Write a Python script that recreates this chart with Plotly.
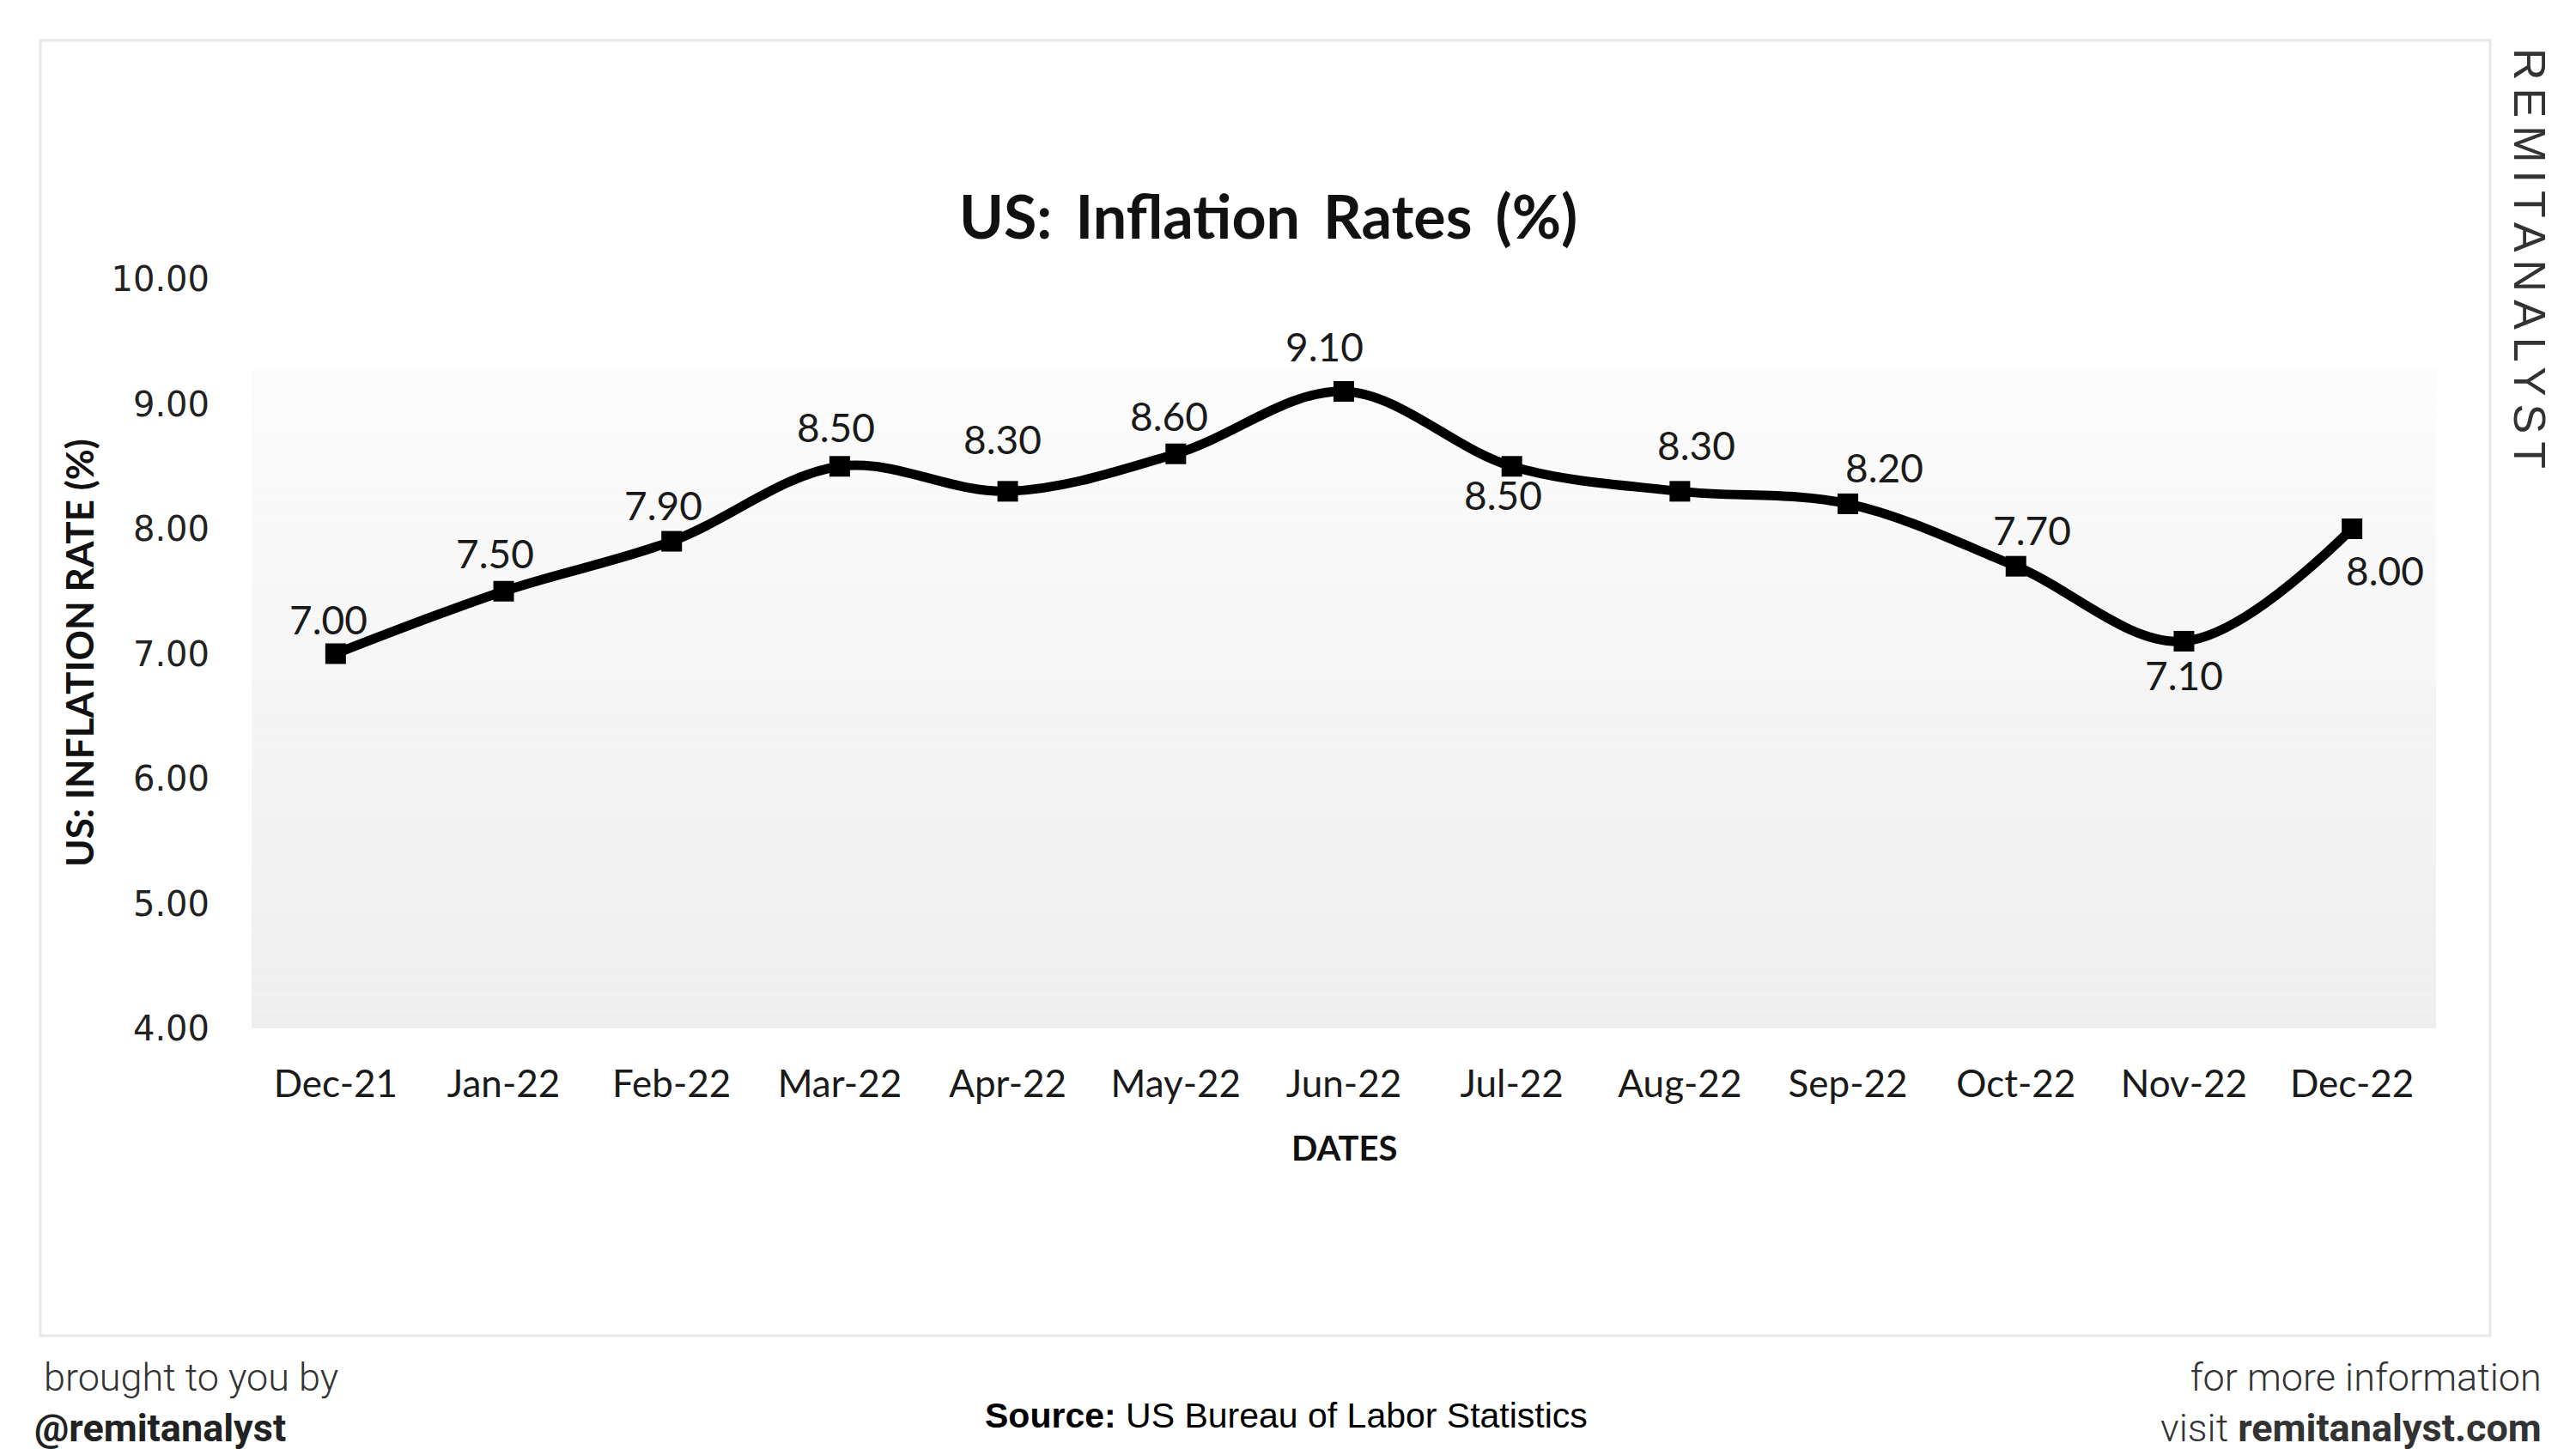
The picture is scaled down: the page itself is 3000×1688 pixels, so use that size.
import plotly.graph_objects as go

# ---------------- data ----------------
dates = ["Dec-21", "Jan-22", "Feb-22", "Mar-22", "Apr-22", "May-22", "Jun-22",
         "Jul-22", "Aug-22", "Sep-22", "Oct-22", "Nov-22", "Dec-22"]
rates = [7.00, 7.50, 7.90, 8.50, 8.30, 8.60, 9.10, 8.50, 8.30, 8.20, 7.70, 7.10, 8.00]
y_ticks = [4, 5, 6, 7, 8, 9, 10]

title_text = "US: Inflation Rates (%)"
y_title = "US: INFLATION RATE (%)"
x_title = "DATES"

# label offsets in pixels (style only)
label_dx = [-8, -10, -10, -4, -6, -8, -23, -10, 19, 42, 19, 0, 38]
label_dy = [40, 44, 42, 46, 61, 44, 52, -33, 54, 42, 42, -40, -48]

# ---------------- layout geometry ----------------
W, H = 3000, 1688
L, R, T, B = 293, 163, 325, 490
PW, PH = W - L - R, H - T - B


def px(x):
    return (x - L) / PW


def py(y):
    return (H - B - y) / PH


fig = go.Figure()

fig.add_trace(go.Scatter(
    x=dates, y=rates, mode="lines+markers",
    line=dict(color="black", width=11, shape="spline", smoothing=1.0),
    marker=dict(symbol="square", size=24, color="black"),
    hoverinfo="skip", showlegend=False,
))

shapes = []
# gradient background of plot area
top_val, bot_val = 9.28, 4.0
n = 40
c_top, c_bot = 252, 238
for i in range(n):
    y0 = bot_val + (top_val - bot_val) * i / n
    y1 = bot_val + (top_val - bot_val) * (i + 1) / n
    c = round(c_bot + (c_top - c_bot) * (i + 0.5) / n)
    shapes.append(dict(type="rect", xref="paper", yref="y", x0=0, x1=1, y0=y0, y1=y1,
                       fillcolor=f"rgb({c},{c},{c})", line=dict(width=0), layer="below"))
# outer frame
shapes.append(dict(type="rect", xref="paper", yref="paper",
                   x0=px(47), x1=px(2900), y0=py(1556), y1=py(47),
                   line=dict(color="#e8e8e8", width=3), fillcolor="rgba(0,0,0,0)", layer="below"))

annotations = []
for d, v, dx, dy in zip(dates, rates, label_dx, label_dy):
    annotations.append(dict(x=d, y=v, xref="x", yref="y", text=f"{v:.2f}", showarrow=False,
                            xshift=dx, yshift=dy, xanchor="center", yanchor="middle",
                            font=dict(family="Lato", size=46, color="#1a1a1a")))

annotations += [
    dict(x=px(1477), y=py(251), xref="paper", yref="paper",
         text=f'<b><span style="word-spacing:10px">{title_text}</span></b>',
         showarrow=False, xanchor="center", yanchor="middle",
         font=dict(family="Lato", size=70, color="#111")),
    dict(x=px(92), y=py(761), xref="paper", yref="paper", text=f"<b>{y_title}</b>",
         showarrow=False, textangle=-90, xanchor="center", yanchor="middle",
         font=dict(family="Lato", size=44, color="#111")),
    dict(x=px(1565), y=py(1337), xref="paper", yref="paper", text=f"<b>{x_title}</b>",
         showarrow=False, xanchor="center", yanchor="middle",
         font=dict(family="Lato", size=40, color="#111")),
    dict(x=px(2946), y=py(305), xref="paper", yref="paper",
         text='<span style="letter-spacing:9px">REMITANALYST</span>',
         showarrow=False, textangle=90, xanchor="center", yanchor="middle",
         font=dict(family="Liberation Sans", size=52, color="#333")),
    dict(x=px(38), y=py(1634), xref="paper", yref="paper",
         text='<span style="color:#333">&nbsp;brought to you by</span><br>'
              '<b><span style="color:#222">@remitanalyst</span></b>',
         showarrow=False, xanchor="left", yanchor="middle", align="left",
         font=dict(family="Roboto", size=45, color="#333", weight=300)),
    dict(x=px(1498), y=py(1649), xref="paper", yref="paper",
         text="<b>Source:</b> US Bureau of Labor Statistics",
         showarrow=False, xanchor="center", yanchor="middle",
         font=dict(family="Liberation Sans", size=41, color="#000")),
    dict(x=px(2962), y=py(1634), xref="paper", yref="paper",
         text="for more information<br>visit <b>remitanalyst.com</b>",
         showarrow=False, xanchor="right", yanchor="middle", align="right",
         font=dict(family="Roboto", size=45, color="#333", weight=300)),
]

fig.update_layout(
    width=W, height=H,
    margin=dict(l=L, r=R, t=T, b=B, pad=0),
    paper_bgcolor="white", plot_bgcolor="rgba(0,0,0,0)",
    shapes=shapes, annotations=annotations,
    xaxis=dict(type="category", range=[-0.5, len(dates) - 0.5], showgrid=False,
               zeroline=False, showline=False, ticks="outside", ticklen=26,
               tickcolor="rgba(0,0,0,0)",
               tickfont=dict(family="Lato", size=44, color="#1a1a1a")),
    yaxis=dict(range=[4, 10], tickvals=y_ticks, tickformat=".2f", showgrid=False,
               zeroline=False, showline=False, ticks="outside", ticklen=40,
               tickcolor="rgba(0,0,0,0)",
               tickfont=dict(family="DejaVu Sans", size=40, color="#222")),
)

fig.write_html("out.html", config={"displayModeBar": False},
               post_script="document.body.style.margin='0';")
